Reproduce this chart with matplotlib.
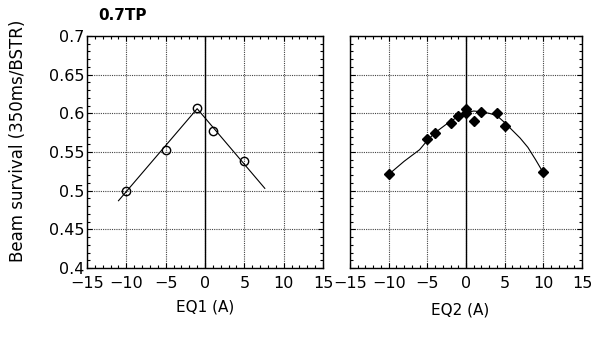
import numpy as np
import matplotlib
matplotlib.use("Agg")
import matplotlib.pyplot as plt
from matplotlib.ticker import MultipleLocator

plt.rcParams["font.family"] = "DejaVu Sans"

# EQ1 scan: measured points and fitted V-line
eq1_x = [-10, -5, -1, 1, 5]
eq1_y = [0.500, 0.553, 0.607, 0.577, 0.538]
eq1_fit_x = [-11, -1, 7.6]
eq1_fit_y = [0.487, 0.606, 0.503]

# EQ2 scan: measured points and smooth fit curve
eq2_x = [-10, -5, -4, -2, -1, 0, 0, 1, 2, 4, 5, 10]
eq2_y = [0.521, 0.567, 0.575, 0.588, 0.596, 0.605, 0.600, 0.590, 0.602, 0.600, 0.583, 0.524]
eq2_fit_x = [-10, -8, -6, -5, -4, -2, 0, 1, 2, 3, 4, 5, 6, 7, 8, 9, 10]
eq2_fit_y = [0.521, 0.538, 0.553, 0.565, 0.575, 0.590, 0.601, 0.603, 0.602,
             0.600, 0.597, 0.588, 0.578, 0.568, 0.556, 0.540, 0.523]

xticks = [-15, -10, -5, 0, 5, 10, 15]
yticks = [0.4, 0.45, 0.5, 0.55, 0.6, 0.65, 0.7]

fig = plt.figure(figsize=(6.01, 3.41), dpi=100)
ax1 = fig.add_axes([0.1448, 0.2141, 0.3927, 0.6803])
ax2 = fig.add_axes([0.5824, 0.2141, 0.3860, 0.6803])


def style(ax, show_ylabels):
    ax.set_xlim(-15, 15)
    ax.set_ylim(0.4, 0.7)
    ax.set_xticks(xticks)
    ax.set_yticks(yticks)
    ax.set_xticklabels([str(t).replace("-", "\u2212") for t in xticks])
    if show_ylabels:
        ax.set_yticklabels([f"{t:g}" for t in yticks])
    else:
        ax.set_yticklabels([])
    ax.xaxis.set_minor_locator(MultipleLocator(1))
    ax.yaxis.set_minor_locator(MultipleLocator(0.01))
    ax.tick_params(which="both", direction="in", top=True, right=True,
                   width=0.8, color="black", labelsize=11.5, pad=2)
    ax.tick_params(axis="x", which="major", pad=6)
    ax.tick_params(which="major", length=3.5)
    ax.tick_params(which="minor", length=2.5)
    ax.grid(True, which="major", linestyle=(0, (1, 1)), color="#444444", linewidth=0.8)
    ax.axvline(0, color="black", linewidth=1.0, zorder=2)
    for s in ax.spines.values():
        s.set_linewidth(1.0)


ax1.plot(eq1_fit_x, eq1_fit_y, color="black", linewidth=0.8, zorder=3)
ax1.plot(eq1_x, eq1_y, linestyle="none", marker="o", markersize=6,
         markerfacecolor="none", markeredgecolor="black", markeredgewidth=1.0, zorder=4)
style(ax1, True)

ax2.plot(eq2_fit_x, eq2_fit_y, color="black", linewidth=0.8, zorder=3)
ax2.plot(eq2_x, eq2_y, linestyle="none", marker="D", markersize=5.5,
         color="black", zorder=4)
style(ax2, False)

fig.text(0.030, 0.587, "Beam survival (350ms/BSTR)", rotation=90,
         ha="center", va="center", fontsize=12)
fig.text(0.341, 0.100, "EQ1 (A)", ha="center", va="center", fontsize=11)
fig.text(0.765, 0.091, "EQ2 (A)", ha="center", va="center", fontsize=11)
fig.text(0.163, 0.955, "0.7TP", ha="left", va="center", fontsize=11, fontweight="bold")

fig.savefig("out.png", dpi=100)
